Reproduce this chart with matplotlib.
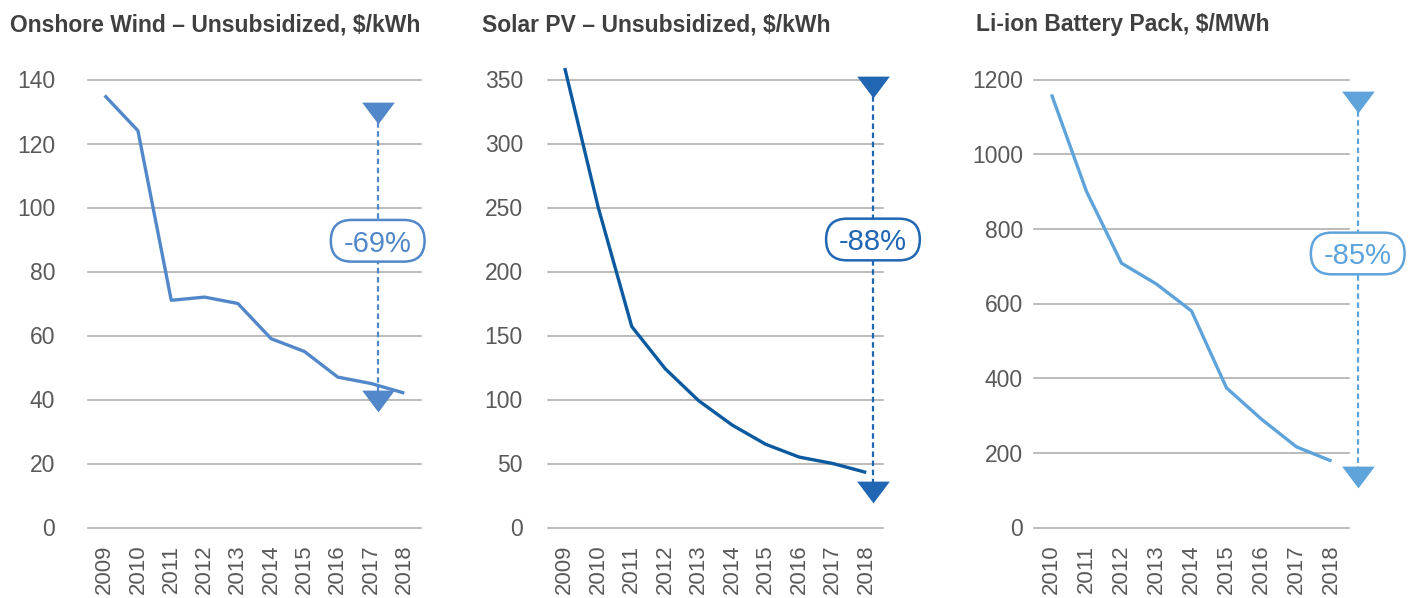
import numpy as np
import matplotlib
matplotlib.use("Agg")
import matplotlib.pyplot as plt
import matplotlib.transforms as mtransforms
from matplotlib.patches import FancyBboxPatch

# ================================
# DATA
# ================================

wind_years = ["2009", "2010", "2011", "2012", "2013", "2014", "2015", "2016", "2017", "2018"]
wind_cost = [135, 124, 71, 72, 70, 59, 55, 47, 45, 42]

solar_years = ["2009", "2010", "2011", "2012", "2013", "2014", "2015", "2016", "2017", "2018"]
solar_cost = [359, 250, 157, 124, 99, 80, 65, 55, 50, 43]

battery_years = ["2010", "2011", "2012", "2013", "2014", "2015", "2016", "2017", "2018"]
battery_cost = [1160, 900, 708, 652, 580, 374, 290, 216, 178]

titles = ["Onshore Wind \u2013 Unsubsidized, $/kWh",
          "Solar PV \u2013 Unsubsidized, $/kWh",
          "Li-ion Battery Pack, $/MWh"]
change_labels = ["-69%", "-88%", "-85%"]
y_ticks = [[0, 20, 40, 60, 80, 100, 120, 140],
           [0, 50, 100, 150, 200, 250, 300, 350],
           [0, 200, 400, 600, 800, 1000, 1200]]

# arrow annotation: x position (category units), top / bottom marker, label y
arrow_x = [8.2, 9.2, 8.75]
arrow_top = [129.5, 344.5, 1140]
arrow_bottom = [39.5, 27.5, 135]
label_y = [89.6, 225, 734]

# ================================
# STYLE
# ================================

W, H = 1413, 598
FONT = "Liberation Sans"
plt.rcParams["font.family"] = [FONT, "DejaVu Sans"]

line_colors = ["#5288c9", "#0b5aa0", "#5fa3db"]
arrow_colors = ["#5288c9", "#2166b3", "#5fa3db"]
axes_px = [(88, 421), (548, 883), (1034, 1349)]
ylab_pad = [23.5, 18, 8]
title_x = [10, 482, 976]
TOP_PX, BOT_PX = 79.5, 527.5
TICK_FS = 16.5

TRI = [(-1, 0.667), (1, 0.667), (0, -0.667), (-1, 0.667)]

fig = plt.figure(figsize=(W / 100, H / 100), dpi=100)

series = [(wind_years, wind_cost), (solar_years, solar_cost), (battery_years, battery_cost)]

for i, (years, vals) in enumerate(series):
    l, r = axes_px[i]
    ax = fig.add_axes([l / W, (H - BOT_PX) / H, (r - l) / W, (BOT_PX - TOP_PX) / H])
    x = np.arange(len(years))

    for yt in y_ticks[i]:
        ax.axhline(yt, color="#a8a8a8", lw=1.1, zorder=1, clip_on=False)

    ax.plot(x, vals, color=line_colors[i], lw=2.4, solid_capstyle="butt",
            solid_joinstyle="round", zorder=3, clip_on=False)

    ax.set_xlim(-0.5, len(years) - 0.5)
    ax.set_ylim(0, y_ticks[i][-1])
    ax.set_xticks(x)
    ax.set_xticklabels(years, rotation=90, va="top", ha="center")
    ax.set_yticks(y_ticks[i])
    ax.tick_params(axis="x", length=0, pad=12.5, labelsize=16, labelcolor="#595959")
    ax.tick_params(axis="y", length=0, pad=ylab_pad[i], labelsize=TICK_FS, labelcolor="#595959")
    for s in ax.spines.values():
        s.set_visible(False)
    ax.patch.set_alpha(0)

    # dashed arrow with triangles
    c = arrow_colors[i]
    ax.plot([arrow_x[i], arrow_x[i]], [arrow_top[i], arrow_bottom[i]], color=c, lw=1.6,
            linestyle=(0, (2.5, 1.6)), zorder=4, clip_on=False)
    ax.plot([arrow_x[i]], [arrow_top[i]], marker=TRI, markersize=23.5, color=c,
            markeredgewidth=0, zorder=5, clip_on=False)
    ax.plot([arrow_x[i]], [arrow_bottom[i]], marker=TRI, markersize=23.5, color=c,
            markeredgewidth=0, zorder=5, clip_on=False)

    # pill label
    t = (mtransforms.Affine2D().scale(1 / 72.) + fig.dpi_scale_trans
         + mtransforms.ScaledTranslation(arrow_x[i], label_y[i], ax.transData))
    bw, bh = 67.5, 30
    box = FancyBboxPatch((-bw / 2, -bh / 2), bw, bh,
                         boxstyle="round,pad=0,rounding_size=15",
                         transform=t, facecolor="white", edgecolor=c, lw=1.8,
                         zorder=6, clip_on=False)
    ax.add_patch(box)
    ax.text(arrow_x[i], label_y[i], change_labels[i], color=c, fontsize=21,
            ha="center", va="center_baseline", zorder=7, clip_on=False)

    fig.text(title_x[i] / W, 1 - 31.5 / H, titles[i], fontsize=16.5, fontweight="bold",
             color="#404040", ha="left", va="baseline")

fig.savefig("out.png", dpi=100)
